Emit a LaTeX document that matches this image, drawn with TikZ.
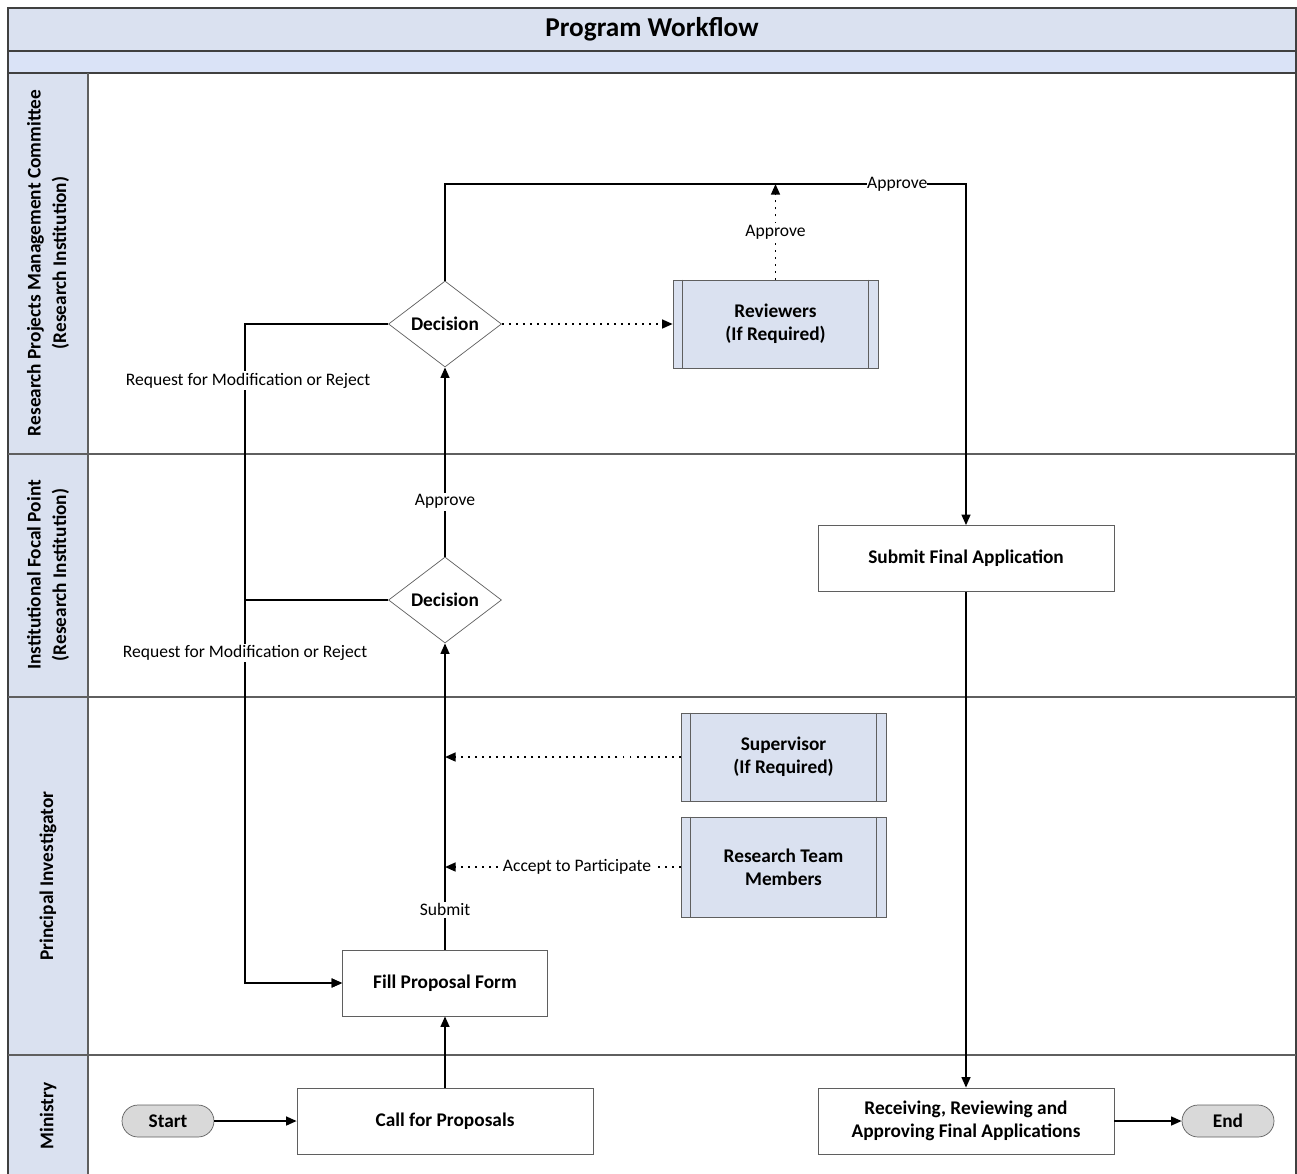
\documentclass[tikz,border=0pt]{standalone}
\usepackage{fontspec}
\setmainfont{Carlito}
\usepackage{xcolor}
\usetikzlibrary{positioning,arrows.meta,shapes.geometric,calc}
\definecolor{bandcolor}{RGB}{218,225,240}
\definecolor{subbandcolor}{RGB}{218,227,247}
\definecolor{lanecolor}{RGB}{218,225,240}
\definecolor{subcolor}{RGB}{218,225,240}
\definecolor{termcolor}{RGB}{217,217,217}
\definecolor{edgecolor}{RGB}{95,95,95}
\definecolor{framecolor}{RGB}{64,64,64}
\tikzset{
    lane title/.style={rotate=90, align=center, font=\fontsize{11}{14.5}\selectfont\bfseries},
    task/.style={rectangle, draw=edgecolor, fill=white, align=center, font=\fontsize{11}{13.2}\selectfont\bfseries, minimum width=5.92cm, minimum height=1.32cm},
    sub task/.style={task, fill=subcolor, minimum width=4.1cm, minimum height=1.76cm},
    decision/.style={diamond, draw=edgecolor, fill=white, inner sep=0pt, minimum width=2.26cm, minimum height=1.72cm, font=\fontsize{11}{13.2}\selectfont\bfseries},
    terminal/.style={rectangle, rounded corners=0.32cm, draw=edgecolor, fill=termcolor, minimum width=1.84cm, minimum height=0.64cm, font=\fontsize{11}{13.2}\selectfont\bfseries},
    flow/.style={line width=1.1pt, -{Triangle[width=5pt, length=6pt]}},
    dot flow/.style={line width=1.1pt, dash pattern=on 1.1pt off 2.9pt, -{Triangle[width=5pt, length=6pt]}},
    flow label/.style={fill=white, inner sep=1pt, font=\fontsize{10}{12}\selectfont}
}
\begin{document}
\begin{tikzpicture}[x=0.02cm, y=-0.02cm]
    \useasboundingbox (0,0) rectangle (1297,1173);

    % Bands and lanes
    \fill[bandcolor] (8,8) rectangle (1296,51);
    \fill[subbandcolor] (8,51) rectangle (1296,73);
    \fill[lanecolor] (8,73) rectangle (88,1175);
    \draw[framecolor, line width=0.8pt] (8,1175) -- (8,8) -- (1296,8) -- (1296,1175);
    \draw[framecolor, line width=0.8pt] (8,51) -- (1296,51);
    \draw[framecolor, line width=0.8pt] (8,73) -- (1296,73);
    \draw[edgecolor, line width=0.8pt] (88,73) -- (88,1175);
    \draw[edgecolor, line width=0.8pt] (8,454) -- (1296,454);
    \draw[edgecolor, line width=0.8pt] (8,697) -- (1296,697);
    \draw[edgecolor, line width=0.8pt] (8,1055) -- (1296,1055);

    % Title and lane names
    \node[font=\fontsize{15.5}{18}\selectfont\bfseries] (title) at (652,29) {Program Workflow};
    \node[lane title] (laneRpmc) at (48,263) {Research Projects Management Committee\\(Research Institution)};
    \node[lane title] (laneIfp) at (48,575) {Institutional Focal Point\\(Research Institution)};
    \node[lane title] (lanePi) at (48,876) {Principal Investigator};
    \node[lane title] (laneMin) at (48,1116) {Ministry};

    % Ministry
    \node[terminal] (start) at (168,1121) {Start};
    \node[task] (call) at (445,1121) {Call for Proposals};
    \node[task] (recv) at (966,1121) {Receiving, Reviewing and\\Approving Final Applications};
    \node[terminal] (stop) at (1228,1121) {End};

    % Principal investigator
    \node[task, minimum width=4.1cm] (fill) at (445,983) {Fill Proposal Form};
    \node[sub task] (sup) at (783.5,757) {Supervisor\\(If Required)};
    \node[sub task, minimum height=2cm] (team) at (783.5,867) {Research Team\\Members};

    % Focal point
    \node[decision] (dec2) at (445,600) {Decision};
    \node[task] (final) at (966,558.5) {Submit Final Application};

    % Committee
    \node[decision] (dec1) at (445,324) {Decision};
    \node[sub task] (rev) at (775.5,324) {Reviewers\\(If Required)};

    % Side bars of the sub tasks
    \foreach \n in {rev,sup,team} {
        \draw[edgecolor] ($(\n.north west)+(10,0)$) -- ($(\n.south west)+(10,0)$);
        \draw[edgecolor] ($(\n.north east)+(-10,0)$) -- ($(\n.south east)+(-10,0)$);
    }

    % Main flow
    \coordinate (loop) at (245,983);
    \coordinate (apprTurn) at (966,184);
    \draw[flow] (start) -- (call);
    \draw[flow] (call) -- (fill);
    \draw[flow] (fill) -- node[flow label, pos=0.13] (lblSubmit) {Submit} (dec2);
    \draw[flow] (dec2) -- node[flow label, pos=0.29] (lblAppr2) {Approve} (dec1);
    \draw[flow] (dec1.west) -| node[flow label, pos=0.543, xshift=0.06cm] (lblRej1) {Request for Modification or Reject} (loop) -- (fill);
    \draw[flow] (dec2.west) -| node[flow label, pos=0.569] (lblRej2) {Request for Modification or Reject} (loop) -- (fill);
    \draw[flow] (dec1.north) |- node[flow label, pos=0.934, inner sep=0pt] (lblAppr1) {Approve} (apprTurn) -- (final);
    \draw[flow] (final) -- (recv);
    \draw[flow] (recv) -- (stop);

    % Optional reviews
    \draw[dot flow] (dec1) -- (rev);
    \draw[dot flow] (rev.north) -- node[flow label] (lblApprRev) {Approve} (rev.north |- apprTurn);
    \draw[dot flow] (sup.west) -- (sup.west -| dec2);
    \draw[dot flow] (team.west) -- node[flow label, pos=0.44] (lblAccept) {Accept to Participate} (team.west -| dec2);
\end{tikzpicture}
\end{document}
